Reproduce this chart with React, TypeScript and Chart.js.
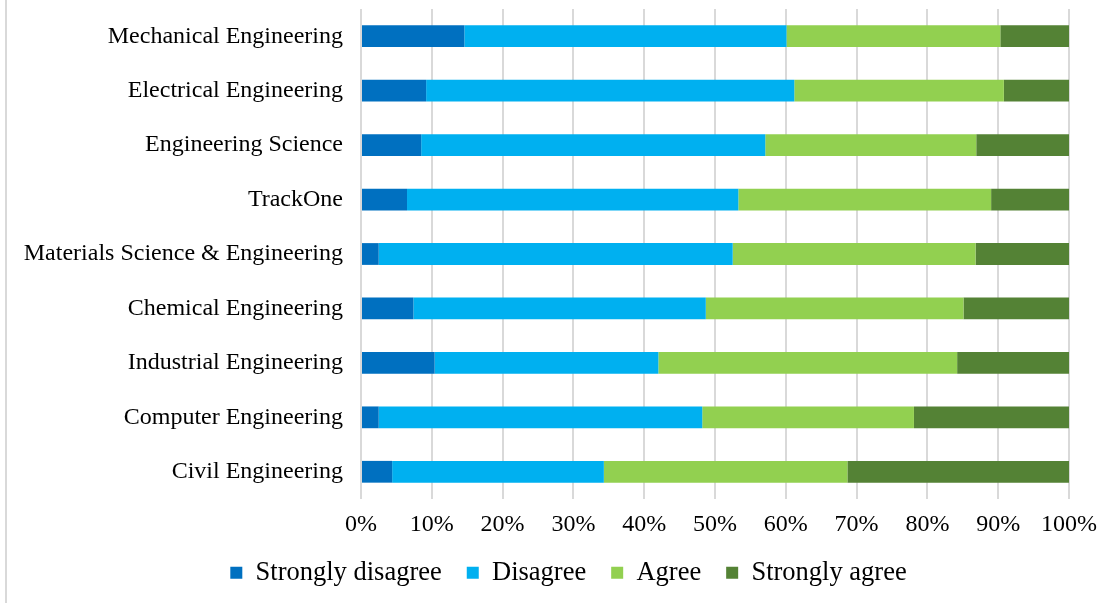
import React, { useEffect, useRef } from "react";
import { Chart, registerables } from "chart.js";

Chart.register(...registerables);

// Survey responses by program, percentages of respondents (each row sums to 100)
const categories = [
  "Mechanical Engineering",
  "Electrical Engineering",
  "Engineering Science",
  "TrackOne",
  "Materials Science & Engineering",
  "Chemical Engineering",
  "Industrial Engineering",
  "Computer Engineering",
  "Civil Engineering",
];

const stronglyDisagree = [14.6, 9.2, 8.5, 6.5, 2.5, 7.4, 10.4, 2.5, 4.4];
const disagree = [45.5, 52.0, 48.6, 46.8, 50.0, 41.3, 31.6, 45.7, 29.9];
const agree = [30.2, 29.6, 29.8, 35.7, 34.3, 36.4, 42.2, 29.9, 34.4];
const stronglyAgree = [9.7, 9.2, 13.1, 11.0, 13.2, 14.9, 15.8, 21.9, 31.3];

const seriesNames = ["Strongly disagree", "Disagree", "Agree", "Strongly agree"];
const seriesColors = ["#0070C0", "#00B0F0", "#92D050", "#548235"];

const tickValues = [0, 10, 20, 30, 40, 50, 60, 70, 80, 90, 100];

const FONT = "'Liberation Serif', 'Times New Roman', serif";
const PLOT_LEFT = 361;
const LEGEND_LEFT = 68;

// Narrows the legend box on the left so the row of items sits a bit right of the canvas centre
const legendOffset = {
  id: "legendOffset",
  afterLayout(chart: any) {
    if (chart.legend) {
      chart.legend.left = LEGEND_LEFT;
    }
  },
};

export default function App() {
  const canvasRef = useRef<HTMLCanvasElement | null>(null);

  useEffect(() => {
    const canvas = canvasRef.current;
    if (!canvas) return;
    const seriesValues = [stronglyDisagree, disagree, agree, stronglyAgree];

    const chart = new Chart(canvas, {
      type: "bar",
      data: {
        labels: categories,
        datasets: seriesValues.map((values, i) => ({
          label: seriesNames[i],
          data: values,
          backgroundColor: seriesColors[i],
          borderWidth: 0,
          barPercentage: 0.4,
          categoryPercentage: 1,
        })),
      },
      plugins: [legendOffset],
      options: {
        indexAxis: "y",
        responsive: false,
        animation: false,
        layout: { padding: { top: 9, right: 43, bottom: 7, left: 0 } },
        plugins: {
          tooltip: { enabled: false },
          legend: {
            position: "bottom",
            labels: {
              boxWidth: 12,
              boxHeight: 12,
              padding: 25,
              color: "#000",
              font: { family: FONT, size: 26.5 },
            },
          },
        },
        scales: {
          x: {
            stacked: true,
            min: 0,
            max: 100,
            afterBuildTicks: (scale: any) => {
              scale.ticks = tickValues.map((v) => ({ value: v }));
            },
            afterFit: (scale: any) => {
              scale.height = 35.5;
            },
            ticks: {
              padding: 11,
              color: "#000",
              font: { family: FONT, size: 24 },
              maxRotation: 0,
              callback: (v: any) => `${v}%`,
            },
            grid: { color: "#d9d9d9", lineWidth: 2, drawTicks: false },
            border: { display: false },
          },
          y: {
            stacked: true,
            afterFit: (scale: any) => {
              scale.width = PLOT_LEFT;
              scale.paddingTop = 0;
              scale.paddingBottom = 0;
            },
            ticks: {
              padding: 18,
              color: "#000",
              font: { family: FONT, size: 24 },
            },
            grid: { display: false, drawTicks: false },
            border: { display: false },
          },
        },
      },
    });

    return () => chart.destroy();
  }, []);

  return (
    <div
      style={{
        position: "fixed",
        left: 0,
        top: 0,
        width: 1112,
        height: 603,
        background: "#fff",
      }}
    >
      <div
        style={{
          position: "absolute",
          left: 5,
          top: 0,
          width: 2,
          height: 603,
          background: "#d9d9d9",
        }}
      />
      <canvas
        ref={canvasRef}
        width={1112}
        height={603}
        style={{ position: "absolute", left: 0, top: 0 }}
      />
    </div>
  );
}
